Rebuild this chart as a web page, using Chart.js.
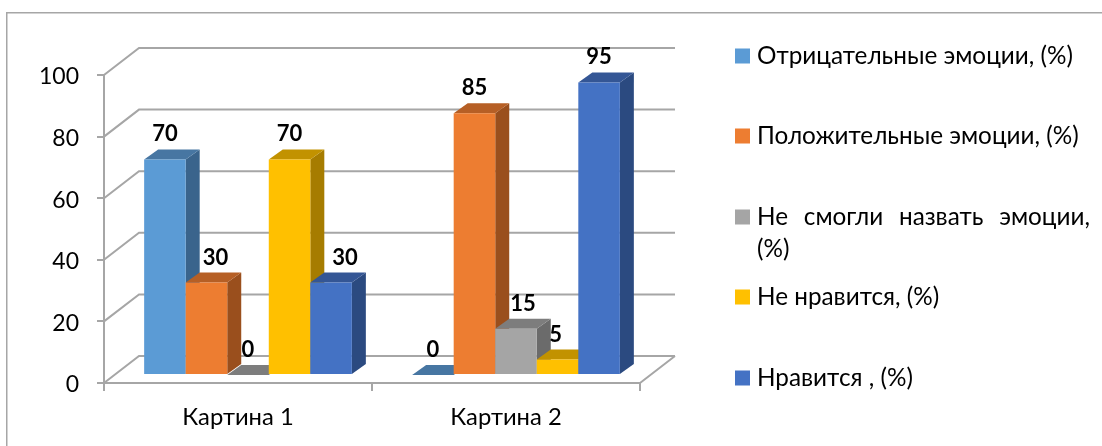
<!DOCTYPE html>
<html>
<head>
<meta charset="utf-8">
<script src="https://cdn.jsdelivr.net/npm/chart.js@4"></script>
<style>
  html, body { margin: 0; padding: 0; background: #fff; overflow: hidden; }
  #wrap { width: 1102px; height: 446px; }
  #chart { filter: blur(0.35px); }
</style>
</head>
<body>
<div id="wrap"><canvas id="chart" width="1102" height="446"></canvas></div>
<script>
const categories = ['Картина 1', 'Картина 2'];
const seriesNames = ['Отрицательные эмоции, (%)', 'Положительные эмоции, (%)', 'Не смогли назвать эмоции, (%)', 'Не нравится, (%)', 'Нравится , (%)'];
const negative = [70, 0];
const positive = [30, 85];
const unnamed = [0, 15];
const dislike = [70, 5];
const like = [30, 95];
const yTicks = [0, 20, 40, 60, 80, 100];

const seriesValues = [negative, positive, unnamed, dislike, like];
const frontColors = ['#5b9bd5', '#ed7d31', '#a5a5a5', '#ffc000', '#4472c4'];
const topColors = ['#4776a2', '#b65f25', '#7d7d7d', '#c29200', '#345695'];
const sideColors = ['#3a648c', '#9a4f1d', '#6b6b6b', '#a67c00', '#2b4a80'];

const fontFamily = 'Lato, "Open Sans", sans-serif';
const lineColor = '#a6a6a6';

// floor and walls sit behind the front axis plane
const wallDx = 35, wallDy = -27;
// bars stand a bit inside the floor
const barDx = 10, barDy = -8;
const depthDx = 14, depthDy = -10;

// hand placed labels, the same way they were dragged in the original
const labelNudge = { '1,0': 9, '4,0': 14, '2,1': 7, '3,1': -2 };

const legendX = 735, legendTextX = 757, legendRight = 1090;
const legendRows = [56, 136, 217, 297, 378];

function drawWalls(chart) {
  const { ctx, scales: { x, y } } = chart;
  ctx.save();
  ctx.strokeStyle = lineColor;
  ctx.lineWidth = 2;
  ctx.beginPath();
  yTicks.forEach(v => {
    const py = y.getPixelForValue(v);
    ctx.moveTo(x.left, py);
    ctx.lineTo(x.left + wallDx, py + wallDy);
    ctx.lineTo(x.right + wallDx, py + wallDy);
  });
  const floor = y.getPixelForValue(0);
  ctx.moveTo(x.right, floor);
  ctx.lineTo(x.right + wallDx, floor + wallDy);
  ctx.stroke();
  ctx.restore();
}

// side and top faces, the front comes from the bar element itself
function drawFaces(ctx, meta, i) {
  meta.data.forEach(bar => {
    const p = bar.getProps(['x', 'y', 'base', 'width'], true);
    const l = p.x - p.width / 2, r = p.x + p.width / 2;
    ctx.fillStyle = sideColors[i];
    ctx.beginPath();
    ctx.moveTo(r, p.y);
    ctx.lineTo(r + depthDx, p.y + depthDy);
    ctx.lineTo(r + depthDx, p.base + depthDy);
    ctx.lineTo(r, p.base);
    ctx.closePath();
    ctx.fill();
    ctx.fillStyle = topColors[i];
    ctx.beginPath();
    ctx.moveTo(l, p.y);
    ctx.lineTo(l + depthDx, p.y + depthDy);
    ctx.lineTo(r + depthDx, p.y + depthDy);
    ctx.lineTo(r, p.y);
    ctx.closePath();
    ctx.fill();
  });
}

const bars3d = {
  id: 'bars3d',
  // chart.js paints the last dataset first, here the left bars must go first
  beforeDatasetsDraw(chart) {
    const { ctx } = chart;
    drawWalls(chart);
    chart.data.datasets.forEach((ds, i) => {
      const meta = chart.getDatasetMeta(i);
      ctx.save();
      ctx.translate(barDx, barDy);
      drawFaces(ctx, meta, i);
      meta.controller.draw();
      ctx.restore();
    });
    ctx.save();
    ctx.font = 'bold 22px ' + fontFamily;
    ctx.fillStyle = '#000';
    ctx.textAlign = 'center';
    ctx.textBaseline = 'middle';
    chart.data.datasets.forEach((ds, i) => {
      chart.getDatasetMeta(i).data.forEach((bar, j) => {
        const nudge = labelNudge[i + ',' + j] || 0;
        ctx.fillText(ds.data[j], bar.x + barDx + nudge, bar.y + barDy - 25);
      });
    });
    ctx.restore();
    return false;
  }
};

const frame = {
  id: 'frame',
  beforeDraw(chart) {
    const { ctx } = chart;
    ctx.save();
    ctx.fillStyle = lineColor;
    ctx.fillRect(6, 12, 1096, 1.5);
    ctx.fillRect(6, 12, 1.5, 434);
    ctx.restore();
    // Lato sits a little high on the middle baseline
    chart.scales.y.getLabelItems(chart.chartArea).forEach(item => {
      item.options.translation[1] = chart.scales.y.getPixelForValue(Number(item.label)) + 2;
    });
  }
};

const sideLegend = {
  id: 'sideLegend',
  afterDraw(chart) {
    const { ctx } = chart;
    ctx.save();
    ctx.font = '24.3px ' + fontFamily;
    ctx.textBaseline = 'middle';
    chart.data.datasets.forEach((ds, i) => {
      const rowY = legendRows[i];
      ctx.fillStyle = ds.backgroundColor;
      ctx.fillRect(legendX, rowY - 7.5, 15, 15);
      ctx.fillStyle = '#000';
      const words = ds.label.split(' ');
      if (ctx.measureText(ds.label).width > legendRight - legendTextX) {
        // first line of a wrapped item is stretched to the full width
        const first = words.slice(0, -1);
        const used = first.reduce((s, t) => s + ctx.measureText(t).width, 0);
        const gap = (legendRight - legendTextX - used) / (first.length - 1);
        let px = legendTextX;
        first.forEach(t => {
          ctx.fillText(t, px, rowY);
          px += ctx.measureText(t).width + gap;
        });
        ctx.fillText(words[words.length - 1], legendTextX, rowY + 32);
      } else {
        ctx.fillText(ds.label, legendTextX, rowY);
      }
    });
    ctx.restore();
  }
};

new Chart(document.getElementById('chart'), {
  type: 'bar',
  data: {
    labels: categories,
    datasets: seriesNames.map((name, i) => ({
      label: name,
      data: seriesValues[i],
      backgroundColor: frontColors[i],
      borderWidth: 0
    }))
  },
  options: {
    responsive: false,
    animation: false,
    events: [],
    layout: { padding: { top: 75, right: 462, bottom: 0, left: 0 } },
    plugins: {
      legend: { display: false },
      tooltip: { enabled: false }
    },
    datasets: { bar: { categoryPercentage: 0.775, barPercentage: 1 } },
    scales: {
      x: {
        afterFit(s) { s.height = 63; s.paddingLeft = 0; s.paddingRight = 0; },
        grid: { color: lineColor, drawOnChartArea: false, tickLength: 8, lineWidth: 2 },
        border: { color: lineColor, width: 2 },
        ticks: { color: '#000', font: { family: fontFamily, size: 23.8 }, padding: 12, maxRotation: 0 }
      },
      y: {
        min: 0,
        max: 100,
        afterFit(s) { s.width = 104; s.paddingTop = 0; s.paddingBottom = 0; },
        afterBuildTicks(s) { s.ticks = yTicks.map(v => ({ value: v })); },
        grid: { color: lineColor, drawOnChartArea: false, tickLength: 7, lineWidth: 2 },
        border: { color: lineColor, width: 2 },
        ticks: { color: '#000', font: { family: fontFamily, size: 23 }, padding: 18 }
      }
    }
  },
  plugins: [frame, bars3d, sideLegend]
});
</script>
</body>
</html>
